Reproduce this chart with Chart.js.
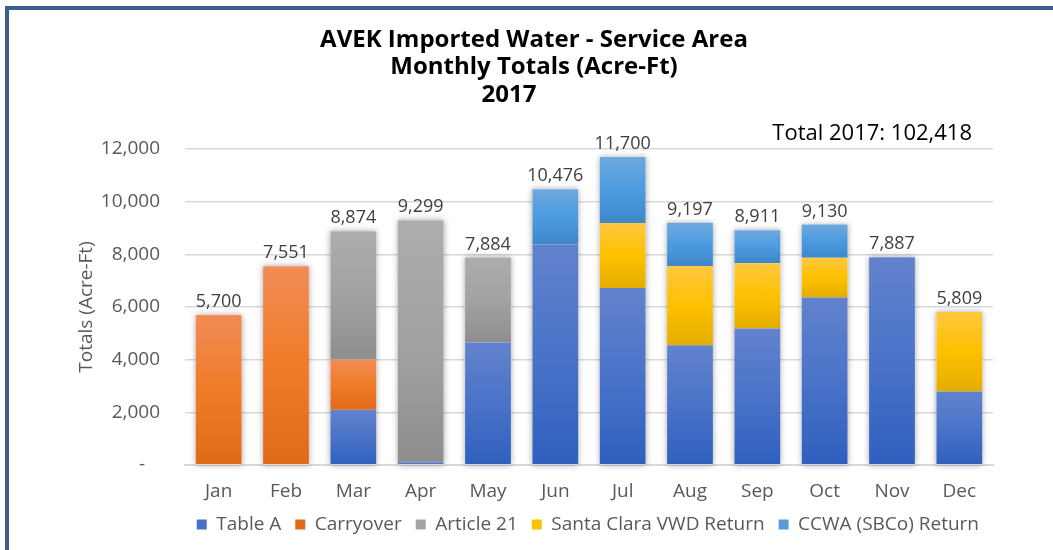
<!DOCTYPE html>
<html>
<head>
<meta charset="utf-8">
<title>AVEK Imported Water 2017</title>
<script src="https://cdn.jsdelivr.net/npm/chart.js@4.4.0/dist/chart.umd.min.js"></script>
<style>
  html, body { margin: 0; padding: 0; background: #fff; overflow: hidden; }
  #marco { position: absolute; left: 5px; top: 6px; width: 2000px; height: 2000px;
           border-left: 4px solid #3b5e8c; border-top: 4px solid #3b5e8c; }
  #grafico { position: absolute; left: 0; top: 0; }
</style>
</head>
<body>
<div id="marco"></div>
<canvas id="grafico" width="1053" height="550"></canvas>
<script>
const meses = ['Jan', 'Feb', 'Mar', 'Apr', 'May', 'Jun', 'Jul', 'Aug', 'Sep', 'Oct', 'Nov', 'Dec'];

// acre-ft por mes
const tablaA     = [0,    0,    2100, 100,  4650, 8370, 6720, 4550, 5180, 6360, 7887, 2790];
const carryover  = [5700, 7551, 1900, 0,    0,    0,    0,    0,    0,    0,    0,    0];
const articulo21 = [0,    0,    4874, 9199, 3234, 0,    0,    0,    0,    0,    0,    0];
const santaClara = [0,    0,    0,    0,    0,    0,    2470, 3010, 2480, 1510, 0,    3019];
const ccwa       = [0,    0,    0,    0,    0,    2106, 2510, 1637, 1251, 1260, 0,    0];

const etiquetasY = ['-   ', '2,000', '4,000', '6,000', '8,000', '10,000', '12,000'];

const fuente = "'Open Sans', sans-serif";
const series = [tablaA, carryover, articulo21, santaClara, ccwa];

const totales = meses.map((m, i) => series.reduce((s, d) => s + d[i], 0));
const totalAnual = totales.reduce((a, b) => a + b, 0);

const fmt = n => n.toLocaleString('en-US');

// degradado vertical por segmento
function degradado(colores) {
    return (c) => {
        const chart = c.chart;
        if (c.type !== 'data' || !chart.chartArea || !chart.scales.y) return colores[3];
        let base = 0;
        for (let k = 0; k < c.datasetIndex; k++) base += chart.data.datasets[k].data[c.dataIndex];
        const v = c.dataset.data[c.dataIndex];
        const y = chart.scales.y;
        const y0 = y.getPixelForValue(base + v);
        const y1 = y.getPixelForValue(base);
        if (!isFinite(y0) || !isFinite(y1) || y1 - y0 < 1) return colores[3];
        const g = chart.ctx.createLinearGradient(0, y0, 0, y1);
        g.addColorStop(0, colores[0]);
        g.addColorStop(0.5, colores[1]);
        g.addColorStop(1, colores[2]);
        return g;
    };
}

const sombra = {
    id: 'sombra',
    beforeDatasetsDraw(chart) {
        const ctx = chart.ctx;
        const y = chart.scales.y;
        const meta = chart.getDatasetMeta(0);
        ctx.save();
        ctx.shadowColor = 'rgba(0,0,0,0.35)';
        ctx.shadowBlur = 6;
        ctx.fillStyle = '#ffffff';
        totales.forEach((t, i) => {
            const bar = meta.data[i];
            const top = y.getPixelForValue(t);
            const bottom = y.getPixelForValue(0);
            ctx.fillRect(bar.x - bar.width / 2, top, bar.width, bottom - top);
        });
        ctx.restore();
    }
};

const etiquetas = {
    id: 'etiquetas',
    afterDatasetsDraw(chart) {
        const ctx = chart.ctx;
        const y = chart.scales.y;
        const meta = chart.getDatasetMeta(0);
        ctx.save();
        ctx.font = '18px ' + fuente;
        ctx.fillStyle = '#404040';
        ctx.textAlign = 'center';
        ctx.textBaseline = 'middle';
        totales.forEach((t, i) => {
            ctx.fillText(fmt(t), meta.data[i].x, y.getPixelForValue(t) - 13);
        });
        ctx.font = '22px ' + fuente;
        ctx.fillStyle = '#000000';
        ctx.textAlign = 'right';
        ctx.fillText('Total 2017: ' + fmt(totalAnual), chart.chartArea.right - 21, chart.chartArea.top - 15);
        ctx.restore();
    }
};

new Chart(document.getElementById('grafico').getContext('2d'), {
    type: 'bar',
    data: {
        labels: meses,
        datasets: [
            { label: 'Table A', data: tablaA, backgroundColor: degradado(['#6282cd', '#4a73c8', '#2f5fbe', '#4472c4']) },
            { label: 'Carryover', data: carryover, backgroundColor: degradado(['#f18c55', '#f07b28', '#e06a18', '#ed7d31']) },
            { label: 'Article 21', data: articulo21, backgroundColor: degradado(['#adadad', '#a2a2a2', '#8e8e8e', '#a5a5a5']) },
            { label: 'Santa Clara VWD Return', data: santaClara, backgroundColor: degradado(['#ffc83f', '#ffc000', '#e3ad00', '#ffc000']) },
            { label: 'CCWA (SBCo) Return', data: ccwa, backgroundColor: degradado(['#6ea8df', '#4c9be0', '#3e87c8', '#5b9bd5']) }
        ]
    },
    options: {
        responsive: false,
        animation: false,
        devicePixelRatio: 1,
        layout: { padding: { top: 13, left: 75, right: 60, bottom: 6 } },
        datasets: { bar: { categoryPercentage: 1, barPercentage: 0.68, borderWidth: 0 } },
        scales: {
            x: {
                stacked: true,
                afterFit(scale) { scale.height = 36; },
                grid: { display: false, drawTicks: false },
                border: { display: true, color: '#d9d9d9', width: 2 },
                ticks: { padding: 15, color: '#595959', font: { family: fuente, size: 19 } }
            },
            y: {
                stacked: true,
                min: 0,
                max: 12000,
                afterFit(scale) { scale.width = 110; },
                grid: { color: '#d9d9d9', lineWidth: 1.5, drawTicks: false },
                border: { display: false },
                ticks: {
                    stepSize: 2000,
                    padding: 25,
                    color: '#595959',
                    font: { family: fuente, size: 19 },
                    callback: (v, i) => etiquetasY[i]
                },
                title: {
                    display: true,
                    text: 'Totals (Acre-Ft)',
                    color: '#595959',
                    padding: { top: 0, bottom: 0 },
                    font: { family: fuente, size: 19 }
                }
            }
        },
        plugins: {
            title: {
                display: true,
                text: ['AVEK Imported Water - Service Area', 'Monthly Totals (Acre-Ft)', '2017        '],
                color: '#000000',
                padding: { top: 13.2, bottom: 40 },
                font: { family: fuente, size: 24, weight: 'bold', lineHeight: 1.15 }
            },
            legend: {
                position: 'bottom',
                align: 'end',
                labels: {
                    boxWidth: 10,
                    boxHeight: 10,
                    padding: 14,
                    color: '#595959',
                    font: { family: fuente, size: 19 }
                }
            },
            tooltip: { enabled: false }
        }
    },
    plugins: [sombra, etiquetas]
});
</script>
</body>
</html>
